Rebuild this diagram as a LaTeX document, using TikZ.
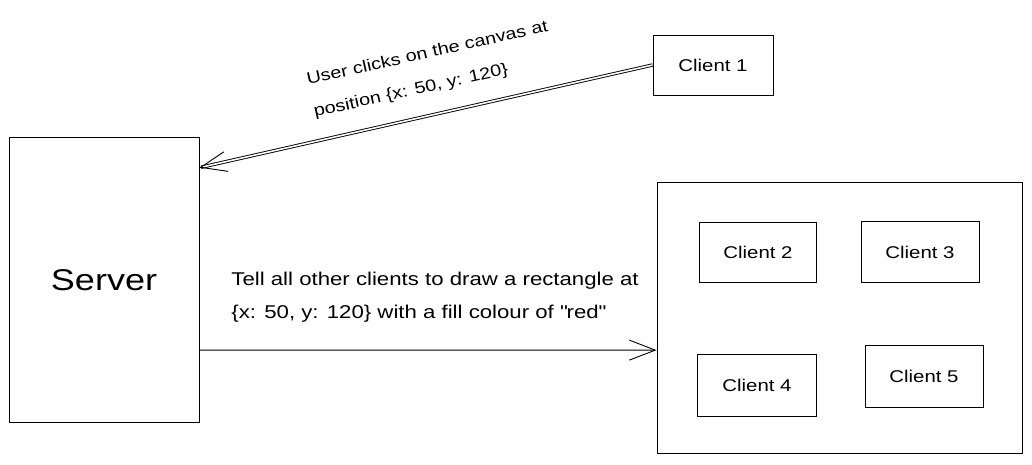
\documentclass[tikz,border=0pt]{standalone}
\usepackage{fontspec}
\setmainfont{Liberation Sans}[FakeStretch=1.2]
\usetikzlibrary{arrows.meta,calc,positioning}
\begin{document}
\begin{tikzpicture}
[x=1pt,y=-1pt,>={Straight Barb[length=26pt,width=20pt]},line width=0.9pt,
box/.style = {draw, rectangle, inner sep = 0pt, font=\fontsize{17}{20}\selectfont},
lbl/.style = {align=left, inner sep = 0pt, font=\fontsize{18.5}{33}\selectfont},]
\useasboundingbox (0,0) rectangle (1032,464);
\node (server) at (104,280)[box,minimum width=190pt,minimum height=285pt,font=\fontsize{30}{34}\selectfont] {Server};
\node (client1) at (713,65)[box,minimum width=120pt,minimum height=60pt] {Client 1};
\node (clients) at (839.5,317.5)[box,minimum width=365pt,minimum height=271pt] {};
\node (client2) at (758,252)[box,minimum width=117pt,minimum height=60pt] {Client 2};
\node (client3) at (920,252)[box,minimum width=118pt,minimum height=61pt] {Client 3};
\node (client4) at (757,385)[box,minimum width=119pt,minimum height=62pt] {Client 4};
\node (client5) at (924,376)[box,minimum width=118pt,minimum height=62pt] {Client 5};
\draw[->,double,double distance=1.6pt] (client1.west)--($(server.north east)!0.107!(server.south east)$);
\draw[->] ($(server.north east)!0.745!(server.south east)$)--($(clients.north west)!0.62!(clients.south west)$);
\node (click) at (431,70)[lbl,rotate=12.5,font=\fontsize{16.5}{33}\selectfont] {User clicks on the canvas at\\position \{x: 50, y: 120\}};
\node (tell) at (231,297)[lbl,anchor=west] {Tell all other clients to draw a rectangle at\\\{x: 50, y: 120\} with a fill colour of \textquotedbl red\textquotedbl};
\end{tikzpicture}
\end{document}
